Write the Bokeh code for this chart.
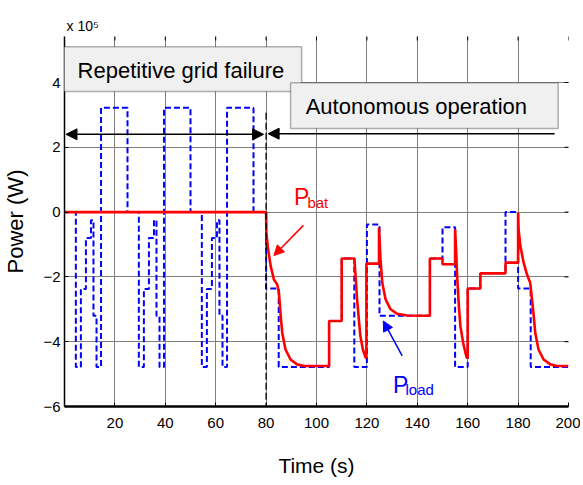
from bokeh.plotting import figure
from bokeh.models import (Range1d, FixedTicker, Arrow, NormalHead,
                          Label, BoxAnnotation, Title)
from bokeh.embed import file_html
from bokeh.resources import INLINE

# ---- data (power in units of 1e5 W) ----
load_t = [0, 4.5, 6.5, 8.5, 10.5, 11.5, 12.7, 14.5, 25,
          29.5, 31.5, 33.5, 35.5, 36.5, 37.7, 39.5, 50,
          54.5, 56.5, 58.5, 60.5, 61.5, 62.7, 64.5, 75,
          80, 85, 105, 110, 115, 120, 125, 145, 150, 155, 160, 165, 175, 180, 185, 200]
load_p = [0, -4.78, -2.37, -0.8, -0.25, -3.2, -4.78, 3.22, 0,
          -4.78, -2.37, -0.8, -0.25, -3.2, -4.78, 3.22, 0,
          -4.78, -2.37, -0.8, -0.25, -3.2, -4.78, 3.22, 0,
          -2.36, -4.78, -3.36, -1.43, -4.78, -0.38, -3.2, -1.43, -0.47, -4.78, -2.36, -1.88, 0, -2.36, -4.78, -4.78]

bat_t = [0, 80, 80.1, 80.8, 81.8, 83.1, 84.4, 85.1, 85.8, 86.4, 87.7, 89.7, 92.3, 95,
         105, 105, 110, 110, 115, 115.5, 116.1, 116.8, 117.4, 118.4, 119.4, 119.8,
         119.8, 124.8, 124.8, 125.4, 126.1, 127.4, 129.4, 132, 136, 145,
         145, 150, 150, 155, 155, 155.4, 155.8, 156.5, 157.1, 158.2, 159.1, 159.6, 160,
         160, 165, 165, 175, 175, 180, 180, 180.2, 180.9, 182.2, 183.5, 184.8,
         185.5, 186.2, 186.8, 188.1, 190.1, 192.8, 195.4, 200]
bat_p = [0, 0, -0.64, -1.15, -1.66, -2.08, -2.23, -2.49, -3.21, -3.72, -4.24, -4.55, -4.70, -4.75,
         -4.75, -3.36, -3.36, -1.43, -1.43, -1.97, -2.69, -3.31, -3.82, -4.24, -4.47, -4.52,
         -1.59, -1.59, -0.48, -1.46, -2.18, -2.69, -3.0, -3.14, -3.19, -3.2,
         -1.43, -1.43, -1.61, -1.61, -0.53, -1.15, -1.97, -2.9, -3.52, -4.03, -4.34, -4.49, -4.5,
         -2.36, -2.36, -1.89, -1.89, -1.56, -1.56, -0.02, -0.53, -1.05, -1.56, -1.92, -2.18,
         -2.69, -3.2, -3.72, -4.24, -4.55, -4.70, -4.75, -4.75]

x_ticks = [20, 40, 60, 80, 100, 120, 140, 160, 180, 200]
y_ticks = [-6, -4, -2, 0, 2, 4]

FONT = "Liberation Sans"
X0, X1, Y0, Y1 = 0, 200, -6, 5.42

p = figure(frame_width=504, frame_height=370, x_range=Range1d(X0, X1), y_range=Range1d(Y0, Y1),
           output_backend="svg", toolbar_location=None,
           min_border_left=59, min_border_right=12, min_border_top=36, min_border_bottom=70)
p.outline_line_color = None
p.background_fill_color = "white"

# exponent (as a left-aligned title above the frame)
p.add_layout(Title(text="x 10\u2075", align="left", offset=2, standoff=6,
                   text_font=FONT, text_font_size="14px", text_font_style="normal",
                   text_color="black"), "above")

# axes
for ax, ticks in ((p.xaxis[0], x_ticks), (p.yaxis[0], y_ticks)):
    ax.ticker = FixedTicker(ticks=ticks)
    ax.major_tick_in = 4
    ax.major_tick_out = 0
    ax.minor_tick_line_color = None
    ax.major_label_text_font = FONT
    ax.major_label_text_font_size = "15px"
    ax.major_label_text_color = "black"
    ax.axis_line_color = "black"
    ax.major_tick_line_color = "black"
    ax.axis_label_text_font = FONT
    ax.axis_label_text_font_style = "normal"
    ax.axis_label_text_color = "black"
p.xaxis[0].axis_label = "Time (s)"
p.xaxis[0].axis_label_text_font_size = "21px"
p.xaxis[0].axis_line_width = 2.5
p.xaxis[0].major_label_standoff = 11
p.xaxis[0].axis_label_standoff = 23
p.yaxis[0].axis_label = "Power (W)"
p.yaxis[0].axis_label_text_font_size = "22px"
p.yaxis[0].axis_line_width = 1.5
p.yaxis[0].major_label_standoff = 4
p.yaxis[0].axis_label_standoff = 12

p.xgrid.ticker = FixedTicker(ticks=x_ticks)
p.ygrid.ticker = FixedTicker(ticks=y_ticks)
p.grid.grid_line_color = "#808080"
p.grid.grid_line_width = 1

# inward tick marks on the top and right edges
p.scatter(x_ticks, [Y1] * len(x_ticks), marker="dash", angle=1.5708, size=8,
          line_color="black", line_width=1)
p.scatter([X1] * len(y_ticks), y_ticks, marker="dash", size=8,
          line_color="black", line_width=1)

# series
p.step(load_t, load_p, mode="after", line_color="#0000ff", line_width=2, line_dash="6 3")
p.line(bat_t, bat_p, line_color="#ff0000", line_width=2.6)

# dashed divider
p.line([80, 80], [3.07, Y0], line_color="black", line_width=1.3, line_dash="7 3")

# arrows
p.add_layout(Arrow(x_start=0.6, y_start=2.4, x_end=79.0, y_end=2.4,
                   start=NormalHead(size=11, fill_color="black", line_color="black"),
                   end=NormalHead(size=11, fill_color="black", line_color="black"),
                   line_color="black", line_width=1.5))
p.add_layout(Arrow(x_start=194.5, y_start=2.42, x_end=80.8, y_end=2.42,
                   end=NormalHead(size=11, fill_color="black", line_color="black"),
                   line_color="black", line_width=1.5))
p.add_layout(Arrow(x_start=94.8, y_start=-0.41, x_end=83.1, y_end=-1.34,
                   end=NormalHead(size=10, fill_color="red", line_color="red"),
                   line_color="red", line_width=1.5))
p.add_layout(Arrow(x_start=134.0, y_start=-4.44, x_end=126.5, y_end=-3.36,
                   end=NormalHead(size=10, fill_color="blue", line_color="blue"),
                   line_color="blue", line_width=1.5))

# text boxes
p.add_layout(BoxAnnotation(left=-0.5, right=94.1, top=5.10, bottom=3.72,
                           fill_color="#f0f0f0", fill_alpha=1, line_color="black", line_width=1.5))
p.add_layout(Label(x=5.2, y=4.37, text="Repetitive grid failure", text_font=FONT,
                   text_font_size="22px", text_baseline="middle", text_color="black"))
p.add_layout(BoxAnnotation(left=89.7, right=195.9, top=3.99, bottom=2.58,
                           fill_color="#f0f0f0", fill_alpha=1, line_color="black", line_width=1.5))
p.add_layout(Label(x=95.7, y=3.26, text="Autonomous operation", text_font=FONT,
                   text_font_size="22px", text_baseline="middle", text_color="black"))

# series labels
p.add_layout(Label(x=91.1, y=0.47, text="P", text_font=FONT, text_font_size="23px",
                   text_color="red", text_baseline="alphabetic"))
p.add_layout(Label(x=96.4, y=0.31, text="bat", text_font=FONT, text_font_size="15px",
                   text_color="red", text_baseline="alphabetic"))
p.add_layout(Label(x=130.4, y=-5.35, text="P", text_font=FONT, text_font_size="23px",
                   text_color="blue", text_baseline="alphabetic"))
p.add_layout(Label(x=135.3, y=-5.48, text="load", text_font=FONT, text_font_size="15px",
                   text_color="blue", text_baseline="alphabetic"))

open("out.html", "w").write(file_html(p, INLINE))
